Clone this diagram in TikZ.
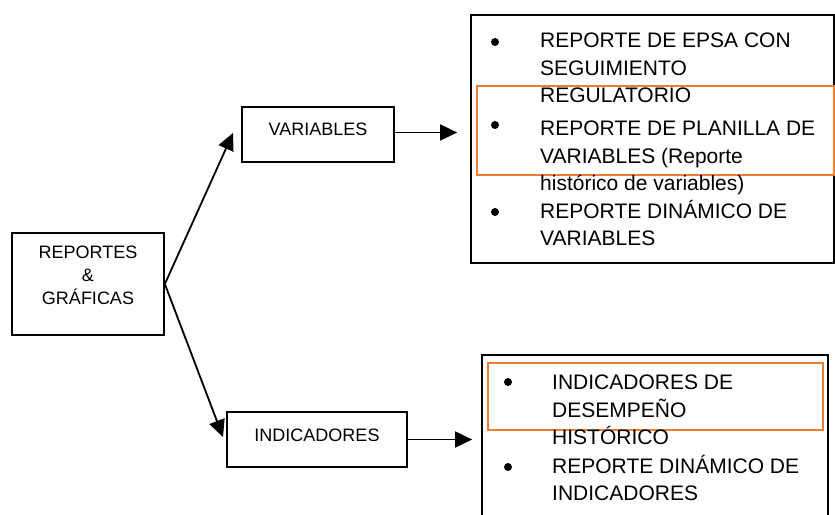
\documentclass[tikz,border=0pt]{standalone}
\usepackage{fontspec}
\setmainfont{Liberation Sans}
\usetikzlibrary{arrows.meta,calc}
\definecolor{frameorange}{RGB}{237,125,49}

\begin{document}
\begin{tikzpicture}[%
  x=1pt,y=-1pt,
  box/.style={rectangle,draw,line width=1.7pt,inner sep=0pt},
  boxtext/.style={font=\fontsize{18}{23}\selectfont,align=center,inner sep=0pt},
  listtext/.style={font=\fontsize{21}{27.5}\selectfont,align=left,anchor=base west,inner sep=0pt},
  dot/.style={circle,fill,inner sep=0pt,minimum size=8pt},
  hilite/.style={rectangle,draw=frameorange,line width=2.2pt,inner sep=0pt},
  link/.style={-{Triangle[length=17pt,width=16pt]},line width=1.8pt}]
    \clip (0,0) rectangle (835,514);
    % Boxes
    \node[box,minimum width=152,minimum height=102] (rep) at (88,284) {};
    \node[boxtext] (reptxt) at ([yshift=9pt]rep.center) {REPORTES\\\&\\GRÁFICAS};
    \node[box,minimum width=152,minimum height=55] (var) at (318,134.5) {};
    \node[boxtext] (vartxt) at ([yshift=5pt]var.center) {VARIABLES};
    \node[box,minimum width=180,minimum height=55] (ind) at (317,439.5) {};
    \node[boxtext] (indtxt) at ([yshift=4pt]ind.center) {INDICADORES};
    % Lists (base anchor sits on the last line)
    \node[box,minimum width=363,minimum height=248] (varlist) at (652.5,139) {};
    \node[box,minimum width=346,minimum height=175] (indlist) at (655,442.5) {};
    \node[hilite,minimum width=357,minimum height=89] (varmark) at (655.5,130.5) {};
    \node[hilite,minimum width=335,minimum height=67] (indmark) at (655.5,396.5) {};
    \node[dot] (b1) at (495,42) {};
    \node[dot] (b2) at (495,125) {};
    \node[dot] (b3) at (495,212) {};
    \node[listtext] (epsa) at (540,102.5) {REPORTE DE EPSA CON\\SEGUIMIENTO\\REGULATORIO};
    \node[listtext] (planilla) at (540,190.5) {REPORTE DE PLANILLA DE\\VARIABLES (Reporte\\histórico de variables)};
    \node[listtext] (dinvar) at (540,245.5) {REPORTE DINÁMICO DE\\VARIABLES};
    \node[dot] (b4) at (508,382) {};
    \node[dot] (b5) at (508,467) {};
    \node[listtext] (desemp) at (552,444.5) {INDICADORES DE\\DESEMPEÑO\\HISTÓRICO};
    \node[listtext] (dinind) at (552,500.5) {REPORTE DINÁMICO DE\\INDICADORES};
    % Arrows
    \coordinate (vartip) at (233,133);
    \coordinate (indtip) at (223,437);
    \coordinate (varout) at ([yshift=2pt]var.east);
    \draw[link] (rep.east) -- (vartip);
    \draw[link] (rep.east) -- (indtip);
    \draw[link,shorten >=13pt] (varout) -- (varlist.west |- varout);
    \draw[link,shorten >=9pt] (ind.east) -- (indlist.west |- ind.east);
\end{tikzpicture}
\end{document}
